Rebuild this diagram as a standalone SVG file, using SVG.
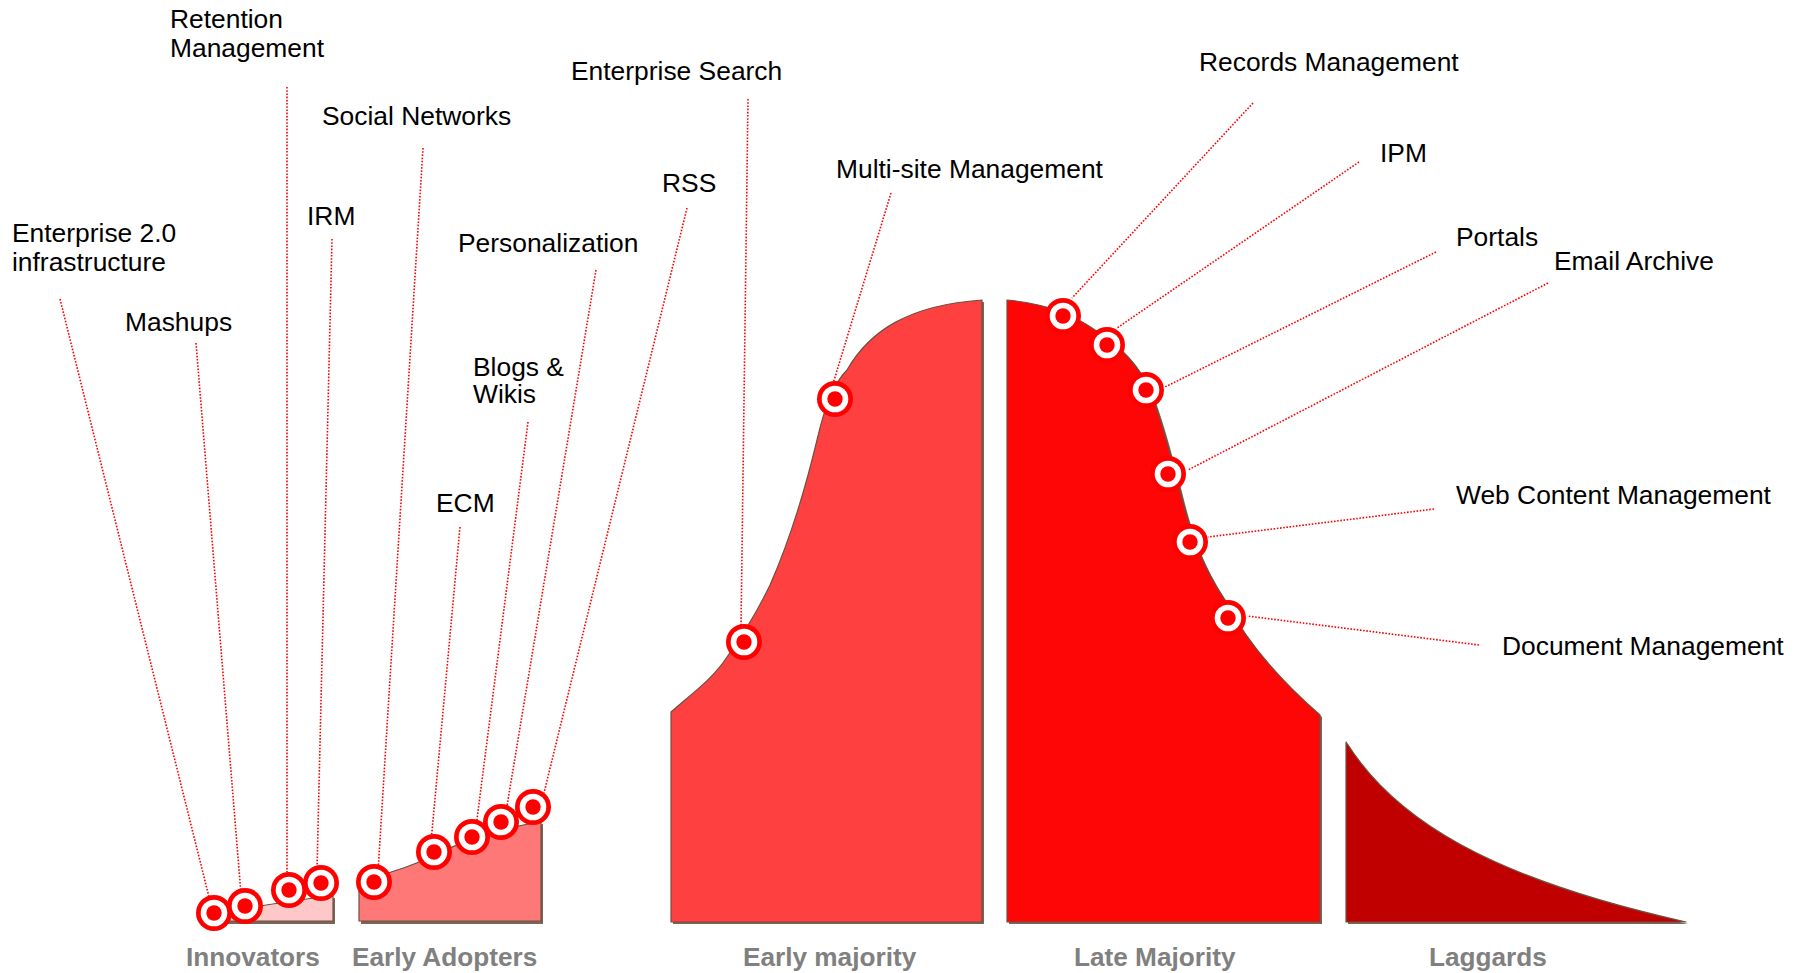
<svg xmlns="http://www.w3.org/2000/svg" xmlns:xlink="http://www.w3.org/1999/xlink" width="1805" height="973" viewBox="0 0 1805 973">
<style>
.lbl{font-family:"Liberation Sans",Arial,sans-serif;font-size:26.4px;fill:#000}
.cat{font-family:"Liberation Sans",Arial,sans-serif;font-size:26.2px;font-weight:bold;fill:#808080}
.seg{stroke:#6e5040;stroke-width:1.2;stroke-linejoin:round}
.shd{fill:#7a6658}
.con line{stroke:#ff0000;stroke-width:1.6;stroke-dasharray:1.6 1.6;fill:none}
</style>
<defs>
<g id="target">
<circle r="18" fill="#ff0000"/>
<circle r="13.3" fill="#ffffff"/>
<circle r="7.7" fill="#ff0000"/>
</g>
</defs>
<rect width="1805" height="973" fill="#ffffff"/>

<g id="seg-innovators">
<path class="shd" d="M216 923 L216 916 C250 910 290 902 335 898 L335 924 L216 924 Z"/>
<path class="seg" fill="#ffc8c8" d="M214 921 L214 914 C250 908 290 900 333 896 L333 921 Z"/>
</g>
<g id="seg-early-adopters">
<path class="shd" d="M361 884 C400 872 420 866 440 855 C470 842 500 830 543 824 L543 924 L361 924 Z"/>
<path class="seg" fill="#ff7878" d="M359 882 C398 870 418 864 438 853 C468 840 498 828 541 822 L541 921 L359 921 Z"/>
</g>
<g id="seg-early-majority">
<path class="shd" d="M673 714 C692 697 714 682 729 659 C747 634 760 612 772 587 C792 542 807 492 819 442 C826 412 834 387 849 372 C872 332 912 307 984 302 L984 924 L673 924 Z"/>
<path class="seg" fill="#ff4040" d="M671 712 C690 695 712 680 727 657 C745 632 758 610 770 585 C790 540 805 490 817 440 C824 410 832 385 847 370 C870 330 910 305 982 300 L982 922 L671 922 Z"/>
</g>
<g id="seg-late-majority">
<path class="shd" d="M1009 302 C1042 305 1072 314 1097 332 C1122 348 1142 367 1154 397 C1165 427 1174 462 1182 492 C1194 542 1207 572 1227 602 C1247 642 1282 682 1322 717 L1322 924 L1009 924 Z"/>
<path class="seg" fill="#fe0606" d="M1007 300 C1040 303 1070 312 1095 330 C1120 346 1140 365 1152 395 C1163 425 1172 460 1180 490 C1192 540 1205 570 1225 600 C1245 640 1280 680 1320 715 L1320 922 L1007 922 Z"/>
</g>
<g id="seg-laggards">
<path class="shd" d="M1348 744 C1397 822 1492 880 1688 924 L1348 924 Z"/>
<path class="seg" fill="#c00000" d="M1346 742 C1395 820 1490 878 1686 922 L1346 922 Z"/>
</g>

<g id="connectors" class="con">
<line x1="60" y1="299" x2="210" y2="901"/>
<line x1="196" y1="343" x2="241" y2="894"/>
<line x1="287" y1="87" x2="287" y2="872"/>
<line x1="332" y1="239" x2="317" y2="870"/>
<line x1="423" y1="148" x2="378" y2="872"/>
<line x1="460" y1="527" x2="431" y2="842"/>
<line x1="528" y1="422" x2="476" y2="827"/>
<line x1="596" y1="270" x2="506" y2="812"/>
<line x1="687" y1="208" x2="544" y2="793"/>
<line x1="748" y1="99" x2="741" y2="628"/>
<line x1="891" y1="193" x2="832" y2="387"/>
<line x1="1253" y1="103" x2="1072" y2="298"/>
<line x1="1359" y1="162" x2="1117" y2="328"/>
<line x1="1436" y1="252" x2="1165" y2="387"/>
<line x1="1548" y1="283" x2="1188" y2="470"/>
<line x1="1434" y1="509" x2="1208" y2="537"/>
<line x1="1479" y1="645" x2="1247" y2="616"/>
</g>

<g id="enterprise-2-0"><use xlink:href="#target" x="214" y="913"/><text class="lbl" x="12" y="242">Enterprise 2.0</text><text class="lbl" x="12" y="271">infrastructure</text></g>
<g id="mashups"><use xlink:href="#target" x="245" y="906"/><text class="lbl" x="125" y="331">Mashups</text></g>
<g id="retention-management"><use xlink:href="#target" x="289" y="890"/><text class="lbl" x="170" y="28">Retention</text><text class="lbl" x="170" y="57">Management</text></g>
<g id="irm"><use xlink:href="#target" x="321" y="883"/><text class="lbl" x="307" y="225">IRM</text></g>
<g id="social-networks"><use xlink:href="#target" x="374" y="882"/><text class="lbl" x="322" y="125">Social Networks</text></g>
<g id="ecm"><use xlink:href="#target" x="434" y="852"/><text class="lbl" x="436" y="512">ECM</text></g>
<g id="blogs-wikis"><use xlink:href="#target" x="472" y="837"/><text class="lbl" x="473" y="376">Blogs &amp;</text><text class="lbl" x="473" y="403">Wikis</text></g>
<g id="personalization"><use xlink:href="#target" x="501" y="822"/><text class="lbl" x="458" y="252">Personalization</text></g>
<g id="rss"><use xlink:href="#target" x="533" y="807"/><text class="lbl" x="662" y="192">RSS</text></g>
<g id="enterprise-search"><use xlink:href="#target" x="744" y="642"/><text class="lbl" x="571" y="80">Enterprise Search</text></g>
<g id="multi-site-management"><use xlink:href="#target" x="835" y="399"/><text class="lbl" x="836" y="178">Multi-site Management</text></g>
<g id="records-management"><use xlink:href="#target" x="1063" y="316"/><text class="lbl" x="1199" y="71">Records Management</text></g>
<g id="ipm"><use xlink:href="#target" x="1107" y="345"/><text class="lbl" x="1380" y="162">IPM</text></g>
<g id="portals"><use xlink:href="#target" x="1146" y="390"/><text class="lbl" x="1456" y="246">Portals</text></g>
<g id="email-archive"><use xlink:href="#target" x="1168" y="474"/><text class="lbl" x="1554" y="270">Email Archive</text></g>
<g id="web-content-management"><use xlink:href="#target" x="1190" y="542"/><text class="lbl" x="1456" y="504">Web Content Management</text></g>
<g id="document-management"><use xlink:href="#target" x="1228" y="618"/><text class="lbl" x="1502" y="655">Document Management</text></g>

<g id="labels-categories">
<text class="cat" x="186" y="966">Innovators</text>
<text class="cat" x="352" y="966">Early Adopters</text>
<text class="cat" x="743" y="966">Early majority</text>
<text class="cat" x="1074" y="966">Late Majority</text>
<text class="cat" x="1429" y="966">Laggards</text>
</g>
</svg>
